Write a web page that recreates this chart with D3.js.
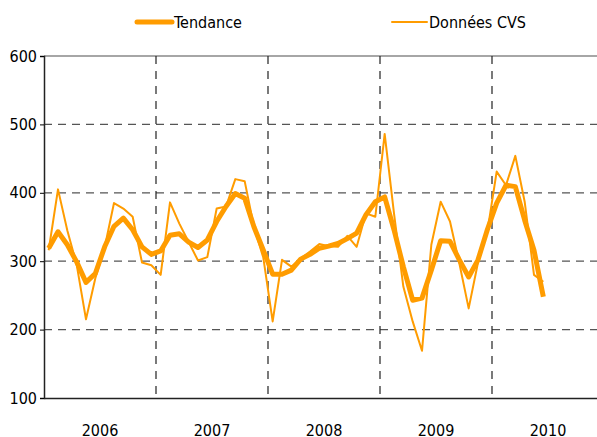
<!DOCTYPE html>
<html>
<head>
<meta charset="utf-8">
<script src="https://cdn.jsdelivr.net/npm/d3@7"></script>
<style>
  body { margin: 0; background: #fff; }
  text { font-family: "DejaVu Sans Condensed", "DejaVu Sans", sans-serif; }
</style>
</head>
<body>
<script>

// monthly values, Jan 2006 -> Jun 2010
let years = ["2006", "2007", "2008", "2009", "2010"]
let yTicks = [100, 200, 300, 400, 500, 600]

let cvs = [316, 405, 345, 295, 215, 275, 320, 385, 377, 365, 298, 294,
           280, 386, 355, 328, 301, 306, 377, 380, 420, 417, 350, 305,
           212, 302, 292, 304, 314, 325, 322, 321, 337, 321, 370, 365,
           486, 370, 263, 212, 169, 324, 387, 358, 297, 231, 298, 343,
           431, 411, 454, 387, 280, 270]

let tendance = [319, 343, 324, 299, 269, 282, 321, 351, 363, 346, 321, 310,
                315, 338, 340, 328, 320, 331, 358, 380, 399, 392, 350, 316,
                281, 281, 287, 303, 310, 319, 322, 326, 333, 341, 368, 387,
                394, 346, 292, 243, 246, 287, 330, 329, 302, 277, 302, 346,
                385, 411, 409, 360, 316, 248]

let width = 597
let height = 437
let orange = "#ff9c00"

let svg = d3.select("body")
            .append("svg")
            .attr("width", width)
            .attr("height", height)

let plotLeft = 44
let plotRight = 604
let plotTop = 56
let plotBottom = 398

let xYear = d3.scaleBand()
              .domain(years)
              .range([plotLeft, plotRight])

let xMonth = d3.scaleLinear()
               .domain([0, years.length * 12])
               .range([plotLeft, plotRight])

let yScale = d3.scaleLinear()
               .domain([100, 600])
               .range([plotBottom, plotTop])

// horizontal grid
svg.append("g")
    .selectAll("line")
    .data(yTicks.filter(d => d > 100 && d < 600))
    .enter()
    .append("line")
    .attr("x1", plotLeft)
    .attr("x2", plotRight)
    .attr("y1", d => yScale(d))
    .attr("y2", d => yScale(d))
    .attr("stroke", "#555")
    .attr("stroke-width", 1.3)
    .attr("stroke-dasharray", "8,6")

svg.append("line")
    .attr("x1", plotLeft)
    .attr("x2", plotRight)
    .attr("y1", yScale(600))
    .attr("y2", yScale(600))
    .attr("stroke", "#888")
    .attr("stroke-width", 1.5)

// vertical year separators
svg.append("g")
    .selectAll("line")
    .data(years.slice(1))
    .enter()
    .append("line")
    .attr("x1", d => xYear(d))
    .attr("x2", d => xYear(d))
    .attr("y1", plotTop)
    .attr("y2", plotBottom)
    .attr("stroke", "#222")
    .attr("stroke-width", 1.2)
    .attr("stroke-dasharray", "8,7")

// axes
let yAxis = d3.axisLeft(yScale)
              .tickValues(yTicks)
              .tickSize(4)
              .tickPadding(3)

let gy = svg.append("g")
    .attr("transform", "translate(" + plotLeft + ",0)")
    .call(yAxis)
gy.select(".domain").attr("stroke", "#222").attr("stroke-width", 1.5)
gy.selectAll("text").style("font-size", "16px").attr("fill", "#000")
    .style("font-family", "'DejaVu Sans Condensed', 'DejaVu Sans', sans-serif")

let xAxis = d3.axisBottom(xYear)
              .tickSize(0)
              .tickPadding(27)

let gx = svg.append("g")
    .attr("transform", "translate(0," + plotBottom + ")")
    .call(xAxis)
gx.select(".domain").attr("stroke", "#222").attr("stroke-width", 1.5)
gx.selectAll("text").style("font-size", "16px").attr("fill", "#000")
    .style("font-family", "'DejaVu Sans Condensed', 'DejaVu Sans', sans-serif")

// series
let line = d3.line()
             .x((d, i) => xMonth(i + 0.5))
             .y(d => yScale(d))

svg.append("path")
    .datum(cvs)
    .attr("d", line)
    .attr("fill", "none")
    .attr("stroke", orange)
    .attr("stroke-width", 2)
    .attr("stroke-linejoin", "round")

svg.append("path")
    .datum(tendance)
    .attr("d", line)
    .attr("fill", "none")
    .attr("stroke", orange)
    .attr("stroke-width", 5)
    .attr("stroke-linejoin", "round")

// legend
let legendItems = [
    {name: "Tendance", w: 5, x: 137},
    {name: "Données CVS", w: 2, x: 392}
]

let legend = svg.append("g")
                .selectAll("g")
                .data(legendItems)
                .enter()
                .append("g")
                .attr("transform", d => "translate(" + d.x + ",22)")

legend.append("line")
    .attr("x1", 0)
    .attr("x2", 35)
    .attr("stroke", orange)
    .attr("stroke-width", d => d.w)
    .attr("stroke-linecap", "round")

legend.append("text")
    .attr("x", 37)
    .attr("y", 6)
    .style("font-size", "16px")
    .text(d => d.name)

</script>
</body>
</html>
